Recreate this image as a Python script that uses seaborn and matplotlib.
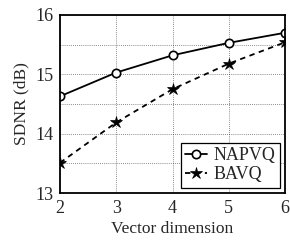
import matplotlib
matplotlib.use("Agg")
import matplotlib.pyplot as plt
import seaborn as sns
import pandas as pd
from matplotlib.ticker import MultipleLocator

dims = [2, 3, 4, 5, 6]
napvq = [14.63, 15.03, 15.32, 15.53, 15.70]
bavq = [13.51, 14.19, 14.75, 15.18, 15.54]
yticks = [13, 14, 15, 16]

sns.set_theme(style="white")
plt.rcParams['font.family'] = ['Liberation Serif', 'DejaVu Serif']

df = pd.DataFrame({"dim": dims * 2, "sdnr": napvq + bavq,
                   "method": ["NAPVQ"] * 5 + ["BAVQ"] * 5})

fig = plt.figure(figsize=(2.9, 2.45), dpi=100)
ax = fig.add_axes([0.207, 0.212, 0.776, 0.727])

sns.lineplot(data=df[df.method == "NAPVQ"], x="dim", y="sdnr", ax=ax, color="black",
             marker="o", markersize=6, markerfacecolor="white", markeredgecolor="black",
             markeredgewidth=1.2, linewidth=1.3, label="NAPVQ")
sns.lineplot(data=df[df.method == "BAVQ"], x="dim", y="sdnr", ax=ax, color="black",
             marker="*", markersize=9, markerfacecolor="black", markeredgecolor="black",
             markeredgewidth=0.5, linestyle=(0, (3, 2.5)), linewidth=1.3, label="BAVQ")

ax.set_xlim(2, 6)
ax.set_ylim(13, 16)
ax.set_xticks(dims)
ax.set_yticks(yticks)
ax.yaxis.set_minor_locator(MultipleLocator(0.5))
ax.grid(True, which="both", color="black", linestyle=(0, (1, 1.5)), linewidth=0.6, alpha=0.6)
ax.tick_params(axis="both", which="both", length=0, labelsize=13, pad=5)
for s in ax.spines.values():
    s.set_color("black")
    s.set_linewidth(1.3)
ax.set_xlabel("Vector dimension", fontsize=12.5, labelpad=3)
ax.set_ylabel("SDNR (dB)", fontsize=12.5, labelpad=4)

leg = ax.legend(loc="lower right", fontsize=13, frameon=True, fancybox=False,
                edgecolor="black", handlelength=1.2, handletextpad=0.35,
                borderpad=0.25, labelspacing=0.1, borderaxespad=0.3)
leg.get_frame().set_linewidth(0.9)
leg.get_frame().set_alpha(1)

fig.savefig("out.png", dpi=100)
